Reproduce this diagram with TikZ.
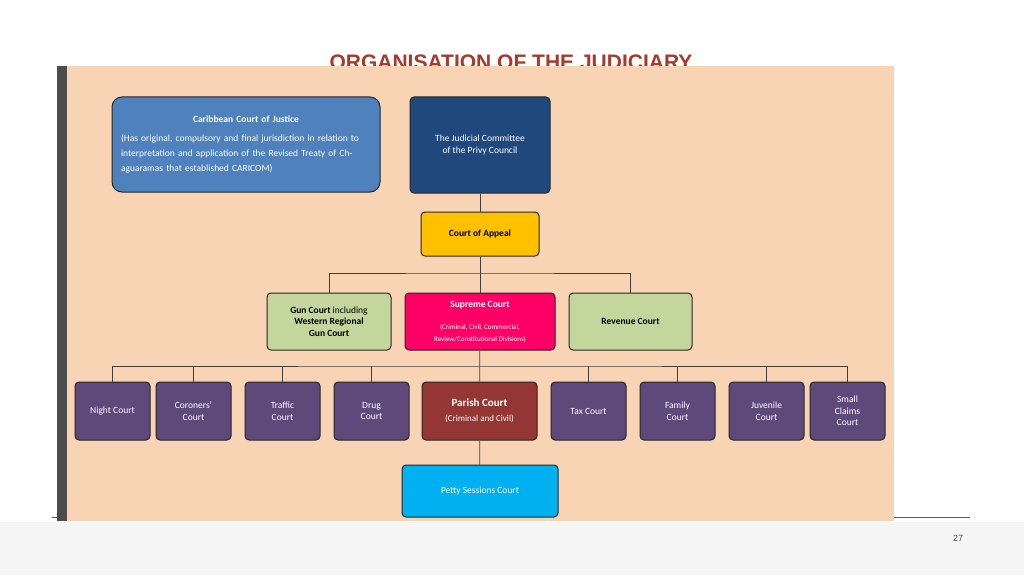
\documentclass[tikz,border=0pt]{standalone}
\usepackage{fontspec}
\setmainfont{Carlito}
\newfontfamily\titlefont{Liberation Sans}
\usetikzlibrary{positioning}
\definecolor{peach}{HTML}{F8D3B4}
\definecolor{ccjblue}{HTML}{4F81BD}
\definecolor{navy}{HTML}{1F497D}
\definecolor{amber}{HTML}{FFC000}
\definecolor{sage}{HTML}{C3D69B}
\definecolor{rose}{HTML}{FF0066}
\definecolor{grape}{HTML}{5F497A}
\definecolor{brick}{HTML}{943634}
\definecolor{sky}{HTML}{00B0F0}
\definecolor{rust}{HTML}{A63A2B}

\tikzset{
  box/.style={draw=black!85, line width=1pt, rounded corners=4pt, align=center, inner sep=2pt},
  low/.style={box, fill=grape, text=white, minimum width=75pt, minimum height=58pt, font=\fontsize{9.5}{11.5}\selectfont},
  link/.style={draw=black!75, line width=0.7pt}
}

\begin{document}
\begin{tikzpicture}[x=1pt,y=-1pt]
  \useasboundingbox (0,0) rectangle (1024,575);
  \fill[white] (0,0) rectangle (1024,575);
  \fill[black!4] (0,522) rectangle (1024,575);
  % title and footer
  \node (title) at (511,62) {\titlefont\bfseries\fontsize{21}{24}\selectfont\color{rust}ORGANISATION OF THE JUDICIARY};
  \draw[rust, line width=0.8pt] (52,517) -- (970,517);
  \node (page) at (958,538) {\titlefont\fontsize{9}{11}\selectfont\color{black!70}27};
  % panel
  \fill[peach] (57,66) rectangle (894,521);
  \fill[black!70] (57,66) rectangle (67,521);

  \node[box, fill=ccjblue, text=white, minimum width=268pt, minimum height=95pt, rounded corners=10pt, text width=250pt, align=left, font=\fontsize{9.5}{15}\selectfont] (ccj) at (246,144.5)
    {\centering\textbf{Caribbean Court of Justice}\par\vspace{4pt}
     (Has original, compulsory and final jurisdiction in relation to interpretation and application of the Revised Treaty of Chaguaramas that established CARICOM)};
  \node[box, fill=navy, text=white, minimum width=140pt, minimum height=96pt, font=\fontsize{9.5}{12}\selectfont] (jcpc) at (480,145)
    {The Judicial Committee\\of the Privy Council};
  \node[box, fill=amber, minimum width=118pt, minimum height=44pt, font=\bfseries\fontsize{9.5}{11}\selectfont] (appeal) at (480,234) {Court of Appeal};

  \node[box, fill=sage, minimum width=124pt, minimum height=57pt, font=\fontsize{9.5}{11.5}\selectfont] (gun) at (329,321.5)
    {\textbf{Gun Court} including\\\textbf{Western Regional}\\\textbf{Gun Court}};
  \node[box, fill=rose, text=white, minimum width=150pt, minimum height=57pt] (supreme) at (480,321.5)
    {\bfseries\fontsize{9.5}{11}\selectfont Supreme Court\\[10pt]\fontsize{7}{9}\selectfont (Criminal, Civil, Commercial,\\\fontsize{7}{9}\selectfont Review/Constitutional Divisions)};
  \node[box, fill=sage, minimum width=123pt, minimum height=57pt, font=\bfseries\fontsize{9.5}{11}\selectfont] (revenue) at (630.5,321.5) {Revenue Court};

  \node[low] (night) at (112.5,411) {Night Court};
  \node[low] (coroners) at (193.5,411) {Coroners'\\Court};
  \node[low] (traffic) at (282.5,411) {Traffic\\Court};
  \node[low] (drug) at (371.5,411) {Drug\\Court};
  \node[low, fill=brick, minimum width=115pt] (parish) at (479.5,411)
    {\bfseries\fontsize{11}{13}\selectfont Parish Court\\[3pt]\fontsize{9}{11}\selectfont(Criminal and Civil)};
  \node[low] (tax) at (588.5,411) {Tax Court};
  \node[low] (family) at (677.5,411) {Family\\Court};
  \node[low] (juvenile) at (766.5,411) {Juvenile\\Court};
  \node[low] (claims) at (847.5,411) {Small\\Claims\\Court};

  \node[box, fill=sky, text=white, minimum width=156pt, minimum height=52pt, font=\fontsize{9.5}{11}\selectfont] (petty) at (480,491) {Petty Sessions Court};

  % connectors
  \draw[link] (jcpc) -- (appeal);
  \draw[link] (appeal) -- (supreme);
  \draw[link] (gun.north) |- (480,273) -| (revenue.north);
  \draw[link] (supreme) -- (parish);
  \draw[link] (night.north) |- (480,366) -| (claims.north);
  \foreach \n in {coroners,traffic,drug,tax,family,juvenile}
    \draw[link] (\n.north) -- (\n.north |- 0,366);
  \draw[link] (parish) -- (petty);
\end{tikzpicture}
\end{document}
